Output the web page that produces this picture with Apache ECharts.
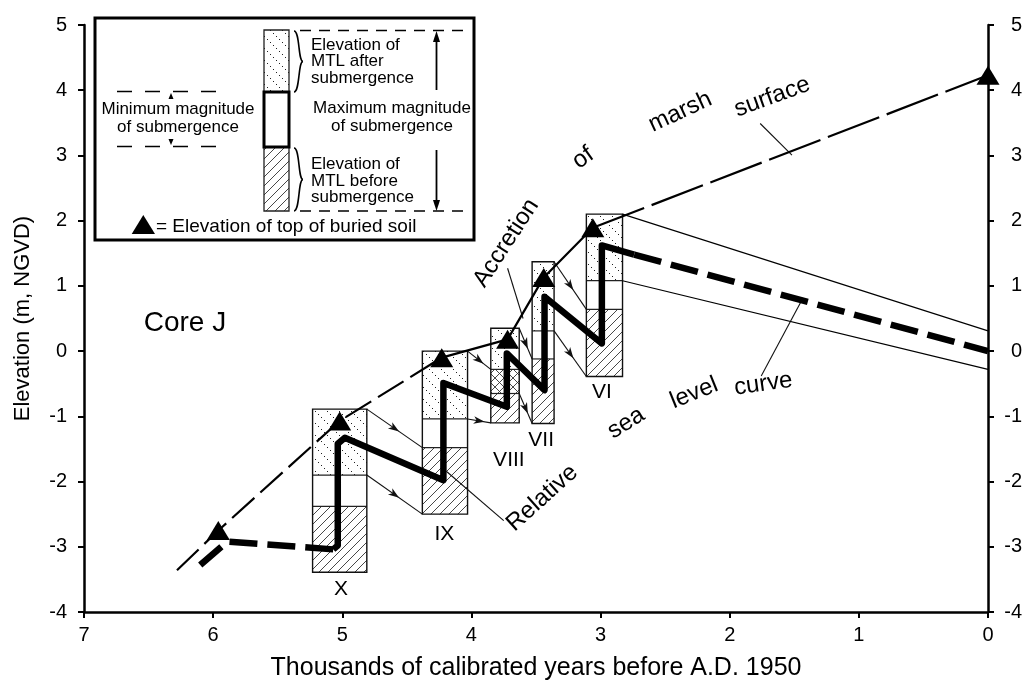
<!DOCTYPE html>
<html><head><meta charset="utf-8">
<script src="https://cdn.jsdelivr.net/npm/echarts@6/dist/echarts.min.js"></script>
<style>html,body{margin:0;padding:0;background:#fff}#c{width:1027px;height:687px}</style>
</head><body><div id="c"></div>
<script>
const FONT = '"Liberation Sans", Arial, Helvetica, sans-serif';

// ---- sea-level index intervals (boxes) ----
const boxNames     = ['X', 'IX', 'VIII', 'VII', 'VI'];
const boxAgeOld    = [5.23, 4.38, 3.85, 3.53, 3.11];
const boxAgeYoung  = [4.81, 4.03, 3.63, 3.36, 2.83];
const afterTop     = [-0.89, 0.00, 0.35, 1.37, 2.10];
const afterBottom  = [-1.90, -1.04, -0.65, 0.31, 1.08];
const beforeTop    = [-2.38, -1.48, -0.28, -0.12, 0.64];
const beforeBottom = [-3.39, -2.50, -1.10, -1.11, -0.39];

// ---- tops of buried soils (triangles) ----
const soilAge  = [5.96, 5.02, 4.23, 3.72, 3.44, 3.06, 0.00];
const soilElev = [-2.75, -1.07, -0.10, 0.18, 1.13, 1.89, 4.23];

// ---- accretion of marsh surface ----
const accretionStartAge = 6.28, accretionStartElev = -3.36;

// ---- relative sea level curve ----
const rslEarlyAge  = [6.10, 5.89, 5.07];
const rslEarlyElev = [-3.28, -2.92, -3.04];
const rslMainAge   = [5.07, 5.035, 5.035, 4.98, 4.217, 4.217, 3.726, 3.726, 3.434, 3.434, 2.99, 2.99, 2.74];
const rslMainElev  = [-3.04, -2.98, -1.42, -1.33, -1.98, -0.49, -0.854, -0.035, -0.598, 0.833, 0.118, 1.62, 1.48];
const rslLateAge   = [2.74, 0.00];
const rslLateElev  = [1.48, 0.00];

// ---- envelope of late-Holocene curve ----
const envUpperAge = [2.83, 0.00], envUpperElev = [2.10, 0.31];
const envLowerAge = [2.83, 0.00], envLowerElev = [1.08, -0.28];

// ---- axis ticks ----
const xTicks = [0, 1, 2, 3, 4, 5, 6, 7];
const yTicks = [-4, -3, -2, -1, 0, 1, 2, 3, 4, 5];

// ---- annotation layout (anchor in data coords) ----
const notes = [
  {t: 'Core J', a: 6.218, e: 0.43, r: 0, s: 28},
  {t: 'X', a: 5.01, e: -3.65, r: 0, s: 21},
  {t: 'IX', a: 4.21, e: -2.81, r: 0, s: 21},
  {t: 'VIII', a: 3.71, e: -1.67, r: 0, s: 21},
  {t: 'VII', a: 3.46, e: -1.365, r: 0, s: 21},
  {t: 'VI', a: 2.99, e: -0.63, r: 0, s: 21},
  {t: 'Accretion', a: 3.731, e: 1.657, r: 57, s: 24},
  {t: 'of', a: 3.135, e: 2.96, r: 35, s: 24},
  {t: 'marsh', a: 2.383, e: 3.666, r: 25, s: 24},
  {t: 'surface', a: 1.671, e: 3.896, r: 20, s: 24},
  {t: 'Relative', a: 3.452, e: -2.254, r: 42, s: 24},
  {t: 'sea', a: 2.802, e: -1.104, r: 32, s: 24},
  {t: 'level', a: 2.275, e: -0.644, r: 22, s: 24},
  {t: 'curve', a: 1.74, e: -0.506, r: 8, s: 24}
];
const pointers = [
  [1.764, 3.49, 1.518, 3.006],
  [1.756, -0.383, 1.441, 0.782],
  [4.19, -1.85, 3.75, -2.60],
  [3.72, 1.27, 3.60, 0.50]
];

function pattern(kind) {
  const s = kind === 'stipple' ? 12 : 9;
  const c = document.createElement('canvas'); c.width = s; c.height = s;
  const g = c.getContext('2d');
  g.fillStyle = '#fff'; g.fillRect(0, 0, s, s);
  if (kind === 'stipple') {
    g.fillStyle = '#222';
    for (let i = 0; i < s; i += 3) g.fillRect(i, i, 1, 1);
  } else {
    g.strokeStyle = '#333'; g.lineWidth = 0.9;
    g.beginPath();
    g.moveTo(-1, s + 1); g.lineTo(s + 1, -1);
    g.moveTo(-1, 1); g.lineTo(1, -1);
    g.moveTo(s - 1, s + 1); g.lineTo(s + 1, s - 1);
    if (kind === 'cross') {
      g.moveTo(-1, -1); g.lineTo(s + 1, s + 1);
      g.moveTo(s - 1, -1); g.lineTo(s + 1, 1);
      g.moveTo(-1, s - 1); g.lineTo(1, s + 1);
    }
    g.stroke();
  }
  return c;
}
const PSTIP = {image: pattern('stipple'), repeat: 'repeat'};
const PHATCH = {image: pattern('hatch'), repeat: 'repeat'};
const PCROSS = {image: pattern('cross'), repeat: 'repeat'};

const boxData = boxNames.map((n, i) => [boxAgeOld[i], boxAgeYoung[i], afterTop[i], afterBottom[i], beforeTop[i], beforeBottom[i]]);
const arrowData = [];
for (let i = 0; i < boxNames.length - 1; i++) {
  arrowData.push([boxAgeYoung[i], afterTop[i], boxAgeOld[i + 1], beforeTop[i + 1]]);
  arrowData.push([boxAgeYoung[i], afterBottom[i], boxAgeOld[i + 1], beforeBottom[i + 1]]);
}
const accA = [[accretionStartAge, accretionStartElev]].concat(soilAge.slice(0, 3).map((a, i) => [a, soilElev[i]]));
const accB = soilAge.slice(2, 6).map((a, i) => [a, soilElev[i + 2]]);
const accC = soilAge.slice(5, 7).map((a, i) => [a, soilElev[i + 5]]);
const zip = (a, b) => a.map((v, i) => [v, b[i]]);

function boxRender(params, api) {
  const xL = api.coord([api.value(0), 0])[0], xR = api.coord([api.value(1), 0])[0];
  const Y = v => api.coord([0, v])[1];
  const yaT = Y(api.value(2)), yaB = Y(api.value(3)), ybT = Y(api.value(4)), ybB = Y(api.value(5));
  const w = xR - xL;
  const ch = [];
  const rect = (y0, y1, fill) => ch.push({type: 'rect', shape: {x: xL, y: y0, width: w, height: y1 - y0}, style: {fill: fill, stroke: null}});
  if (yaB <= ybT) {
    rect(yaT, yaB, PSTIP); rect(yaB, ybT, '#fff'); rect(ybT, ybB, PHATCH);
  } else {
    rect(yaT, ybT, PSTIP); rect(ybT, yaB, PCROSS); rect(yaB, ybB, PHATCH);
  }
  [yaB, ybT].forEach(y => ch.push({type: 'line', shape: {x1: xL, y1: y, x2: xR, y2: y}, style: {stroke: '#222', lineWidth: 1.2}}));
  ch.push({type: 'rect', shape: {x: xL, y: yaT, width: w, height: ybB - yaT}, style: {fill: null, stroke: '#111', lineWidth: 1.4}});
  return {type: 'group', children: ch};
}
function arrowRender(params, api) {
  const p1 = api.coord([api.value(0), api.value(1)]), p2 = api.coord([api.value(2), api.value(3)]);
  const mx = (p1[0] + p2[0]) / 2, my = (p1[1] + p2[1]) / 2;
  const an = Math.atan2(p2[1] - p1[1], p2[0] - p1[0]);
  const c = Math.cos(an), s = Math.sin(an), L = 11, W = 3.8;
  const tip = [mx + c * L / 2, my + s * L / 2], b = [mx - c * L / 2, my - s * L / 2];
  return {type: 'group', children: [
    {type: 'line', shape: {x1: p1[0], y1: p1[1], x2: p2[0], y2: p2[1]}, style: {stroke: '#111', lineWidth: 1.1}},
    {type: 'polygon', shape: {points: [tip, [b[0] - s * W, b[1] + c * W], [b[0] + c * 3, b[1] + s * 3], [b[0] + s * W, b[1] - c * W]]}, style: {fill: '#111'}}
  ]};
}
function segRender(params, api) {
  const p1 = api.coord([api.value(0), api.value(1)]), p2 = api.coord([api.value(2), api.value(3)]);
  return {type: 'line', shape: {x1: p1[0], y1: p1[1], x2: p2[0], y2: p2[1]}, style: {stroke: '#111', lineWidth: 1.1}};
}
function noteRender(params, api) {
  const n = notes[params.dataIndex];
  const p = api.coord([n.a, n.e]);
  return {type: 'text', x: p[0], y: p[1], rotation: n.r * Math.PI / 180,
    style: {text: n.t, font: n.s + 'px ' + FONT, fill: '#000', align: 'center', verticalAlign: 'middle', textAlign: 'center', textVerticalAlign: 'middle'}};
}

const lineS = (data, width, type, z) => ({type: 'line', data: data, showSymbol: false, symbol: 'none', silent: true, animation: false, z: z,
  lineStyle: {color: '#000', width: width, type: type, cap: 'butt', join: 'round', opacity: 1}, clip: false});

const axisCommon = {
  axisLine: {show: true, onZero: false, lineStyle: {color: '#000', width: 2.5}},
  axisTick: {show: true, inside: false, length: 6, lineStyle: {color: '#000', width: 2}},
  splitLine: {show: false},
  axisLabel: {color: '#000', fontSize: 20, fontFamily: FONT}
};

// ---- legend graphic ----
const LF = '17px ' + FONT;
const tx = (x, y, t, font, align, lh) => ({type: 'text', z: 101, x: x, y: y,
  style: {text: t, font: font, fill: '#000', align: align, verticalAlign: 'middle', textAlign: align, textVerticalAlign: 'middle', lineHeight: lh}});
const dline = (x1, y1, x2, y2, dash, w) => ({type: 'line', z: 101, shape: {x1: x1, y1: y1, x2: x2, y2: y2}, style: {stroke: '#000', lineWidth: w || 1.3, lineDash: dash || null}});
const poly = pts => ({type: 'polygon', z: 101, shape: {points: pts}, style: {fill: '#000'}});
const bz = (x1, y1, c1x, c1y, c2x, c2y, x2, y2) => ({type: 'bezierCurve', z: 101,
  shape: {x1: x1, y1: y1, cpx1: c1x, cpy1: c1y, cpx2: c2x, cpy2: c2y, x2: x2, y2: y2}, style: {fill: null, stroke: '#000', lineWidth: 1.6}});
const brace = (y0, y1) => {
  const m = (y0 + y1) / 2;
  return [bz(294, y0, 300, y0, 298, m, 303, m), bz(303, m, 298, m, 300, y1, 294, y1)];
};
const legend = [
  {type: 'rect', z: 100, shape: {x: 95, y: 18, width: 379, height: 222}, style: {fill: '#fff', stroke: '#000', lineWidth: 3}},
  {type: 'rect', z: 101, shape: {x: 264, y: 30, width: 25, height: 62}, style: {fill: PSTIP, stroke: '#222', lineWidth: 1.3}},
  {type: 'rect', z: 101, shape: {x: 264, y: 147, width: 25, height: 64}, style: {fill: PHATCH, stroke: '#222', lineWidth: 1.3}},
  {type: 'rect', z: 102, shape: {x: 264, y: 92, width: 25, height: 55}, style: {fill: '#fff', stroke: '#000', lineWidth: 3}}
].concat(brace(31, 92), brace(148, 211), [
  tx(311, 61.5, 'Elevation of\nMTL after\nsubmergence', LF, 'left', 16.5),
  tx(311, 181, 'Elevation of\nMTL before\nsubmergence', LF, 'left', 16.5),
  tx(392, 117, 'Maximum magnitude\nof submergence', LF, 'center', 18),
  tx(178, 118, 'Minimum magnitude\nof submergence', LF, 'center', 18),
  dline(300, 30.5, 470, 30.5, [11, 8]), dline(300, 211, 470, 211, [11, 8]),
  dline(117, 91.5, 226, 91.5, [15, 13]), dline(117, 146.5, 226, 146.5, [15, 13]),
  dline(436.5, 90, 436.5, 38, null, 1.8), poly([[436.5, 31], [433, 42], [440, 42]]),
  dline(436.5, 150, 436.5, 204, null, 1.8), poly([[436.5, 211], [433, 200], [440, 200]]),
  poly([[171, 93], [168.5, 99], [173.5, 99]]), poly([[171, 145], [168.5, 139], [173.5, 139]]),
  poly([[143.3, 215], [131.7, 234], [155, 234]]),
  tx(156, 227, '= Elevation of top of buried soil', '19px ' + FONT, 'left', 20)
]);

const chart = echarts.init(document.getElementById('c'), null, {renderer: 'canvas'});
chart.setOption({
  animation: false,
  backgroundColor: '#fff',
  grid: {left: 84, right: 39, top: 25, bottom: 75, containLabel: false},
  xAxis: Object.assign({}, axisCommon, {
    type: 'value', min: xTicks[0], max: xTicks[xTicks.length - 1], interval: 1, inverse: true,
    axisLabel: Object.assign({}, axisCommon.axisLabel, {margin: 13}),
    name: 'Thousands of calibrated years before A.D. 1950', nameLocation: 'middle', nameGap: 44,
    nameTextStyle: {color: '#000', fontSize: 25, fontFamily: FONT}
  }),
  yAxis: [
    Object.assign({}, axisCommon, {
      type: 'value', min: yTicks[0], max: yTicks[yTicks.length - 1], interval: 1, position: 'left',
      axisLabel: Object.assign({}, axisCommon.axisLabel, {margin: 17}),
      name: 'Elevation (m, NGVD)', nameLocation: 'middle', nameGap: 50, nameRotate: 90,
      nameTextStyle: {color: '#000', fontSize: 22, fontFamily: FONT}
    }),
    Object.assign({}, axisCommon, {
      type: 'value', min: yTicks[0], max: yTicks[yTicks.length - 1], interval: 1, position: 'right',
      axisLabel: Object.assign({}, axisCommon.axisLabel, {margin: 34, align: 'right'})
    })
  ],
  graphic: legend,
  series: [
    {type: 'custom', name: 'boxes', renderItem: boxRender, data: boxData, clip: false, silent: true, z: 2,
      encode: {x: [0, 1], y: [2, 3, 4, 5]}},
    {type: 'custom', name: 'arrows', renderItem: arrowRender, data: arrowData, clip: false, silent: true, z: 3,
      encode: {x: [0, 2], y: [1, 3]}},
    {type: 'custom', name: 'pointers', renderItem: segRender, data: pointers, clip: false, silent: true, z: 3,
      encode: {x: [0, 2], y: [1, 3]}},
    lineS(zip(envUpperAge, envUpperElev), 1.1, 'solid', 3),
    lineS(zip(envLowerAge, envLowerElev), 1.1, 'solid', 3),
    lineS(zip(rslEarlyAge, rslEarlyElev), 6.5, [28, 10], 4),
    lineS(zip(rslMainAge, rslMainElev), 6.5, 'solid', 4),
    lineS(zip(rslLateAge, rslLateElev), 6.5, [28, 10], 4),
    lineS(accA, 2.2, [30, 8], 5),
    lineS(accB, 2.2, 'solid', 5),
    lineS(accC, 2.2, [55, 8], 5),
    {type: 'scatter', data: zip(soilAge, soilElev), symbol: 'triangle', symbolSize: [23, 19], clip: false, silent: true, z: 6,
      itemStyle: {color: '#000', opacity: 1}},
    {type: 'custom', name: 'notes', renderItem: noteRender, data: notes.map(n => [n.a, n.e]), clip: false, silent: true, z: 7,
      encode: {x: 0, y: 1}}
  ]
});
</script></body></html>
